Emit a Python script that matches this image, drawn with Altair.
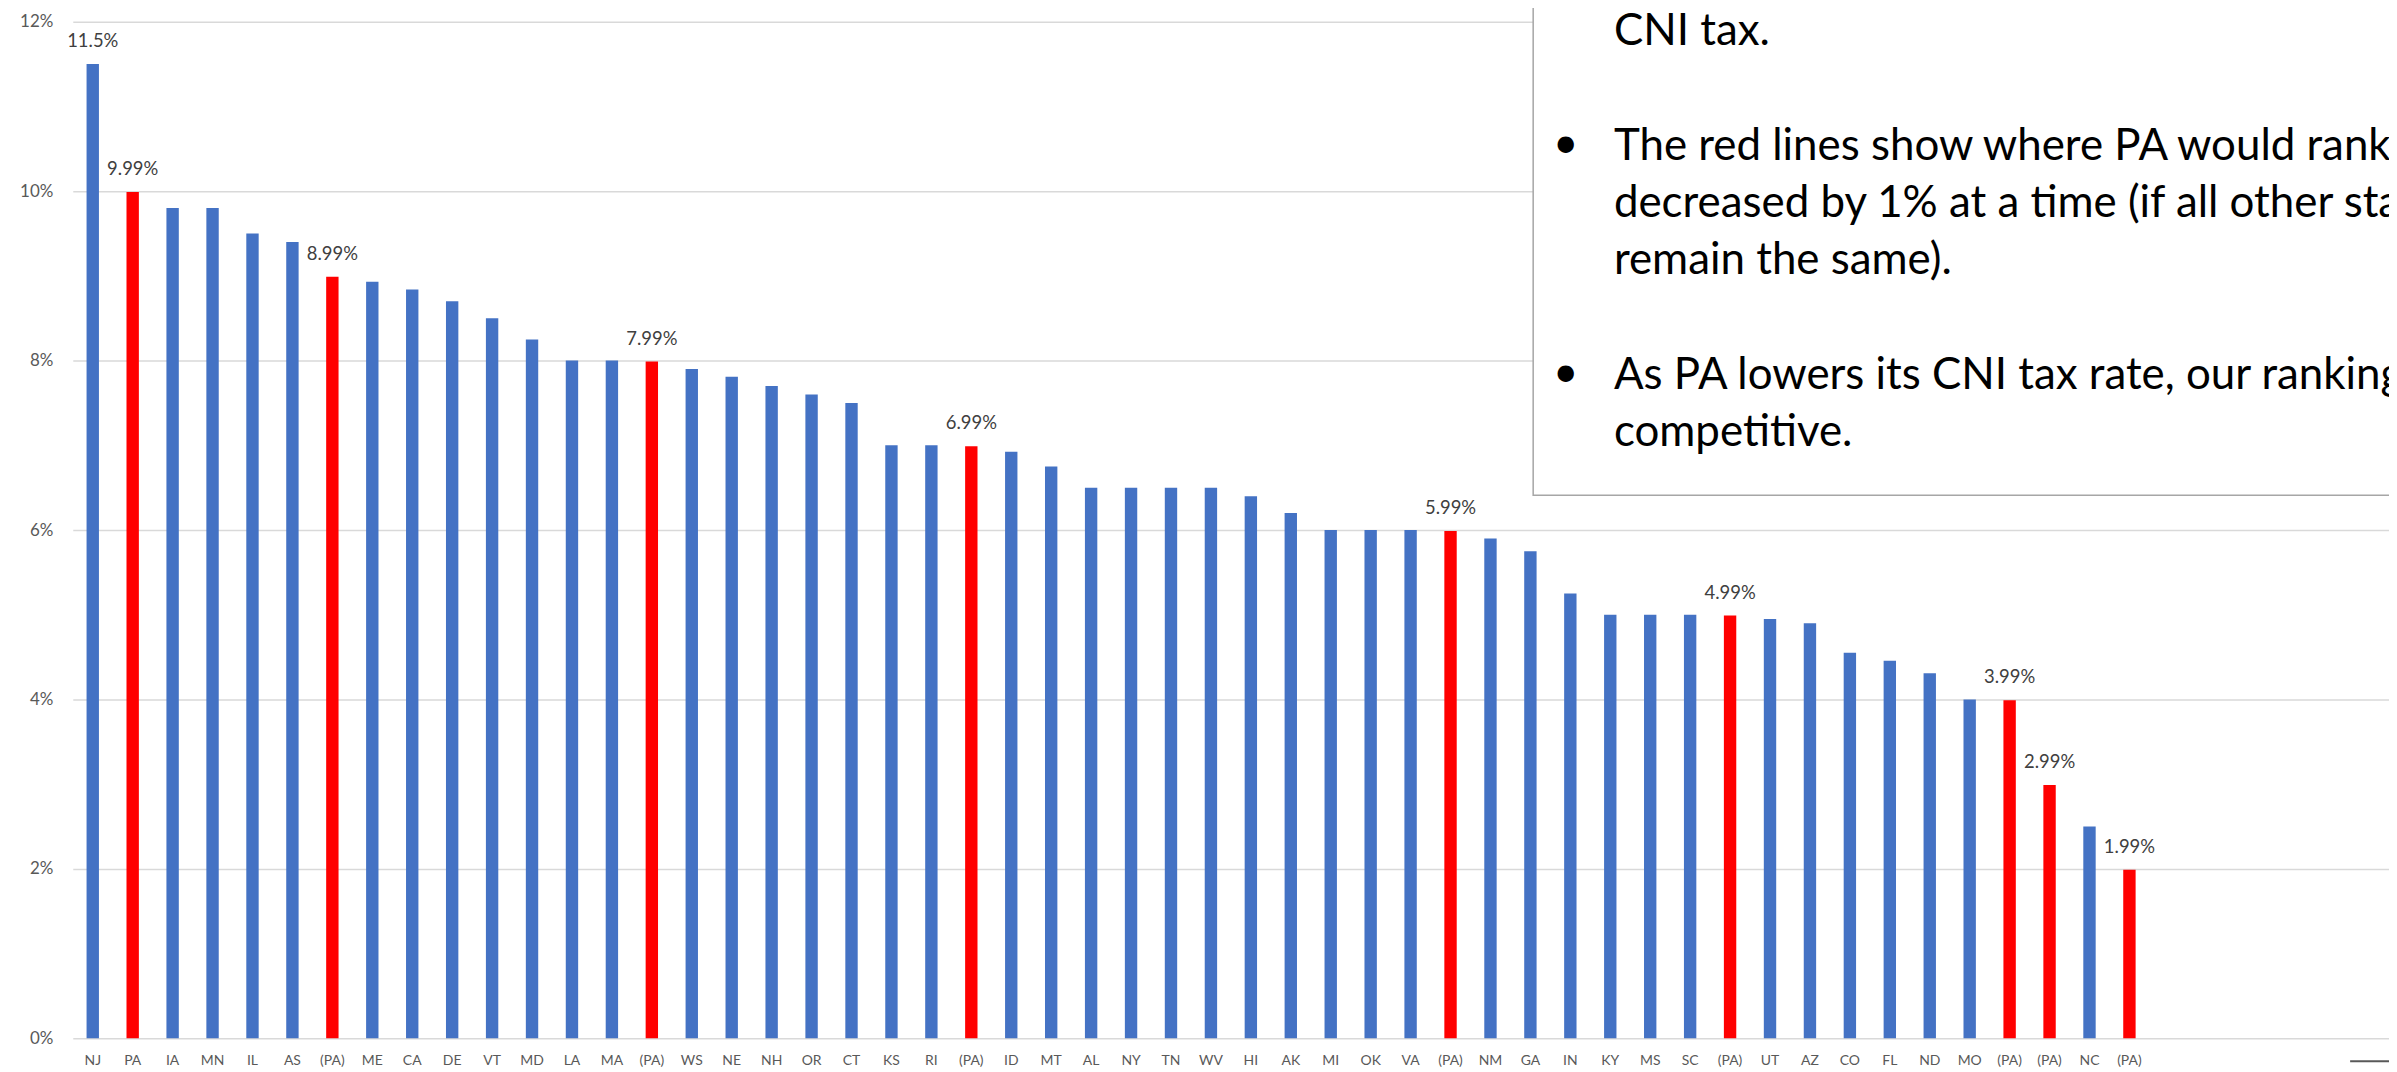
import json
import altair as alt
import pandas as pd

# ---- data ----
states = ["NJ", "PA", "IA", "MN", "IL", "AS", "(PA)", "ME", "CA", "DE", "VT", "MD", "LA", "MA",
          "(PA)", "WS", "NE", "NH", "OR", "CT", "KS", "RI", "(PA)", "ID", "MT", "AL", "NY", "TN",
          "WV", "HI", "AK", "MI", "OK", "VA", "(PA)", "NM", "GA", "IN", "KY", "MS", "SC", "(PA)",
          "UT", "AZ", "CO", "FL", "ND", "MO", "(PA)", "(PA)", "NC", "(PA)"]
rates = [11.5, 9.99, 9.8, 9.8, 9.5, 9.4, 8.99, 8.93, 8.84, 8.7, 8.5, 8.25, 8.0, 8.0,
         7.99, 7.9, 7.81, 7.7, 7.6, 7.5, 7.0, 7.0, 6.99, 6.925, 6.75, 6.5, 6.5, 6.5,
         6.5, 6.4, 6.2, 6.0, 6.0, 6.0, 5.99, 5.9, 5.75, 5.25, 5.0, 5.0, 5.0, 4.99,
         4.95, 4.9, 4.55, 4.458, 4.31, 4.0, 3.99, 2.99, 2.5, 1.99]
y_ticks = [0, 2, 4, 6, 8, 10, 12]
n_slots = 58  # category slots on the axis (empty ones at the right)

box_lines = ["CNI tax.",
             "The red lines show where PA would rank",
             "decreased by 1% at a time (if all other states",
             "remain the same).",
             "As PA lowers its CNI tax rate, our ranking",
             "competitive."]
box_baselines = [23.3, 138.3, 195.8, 253.3, 368.3, 425.8]  # plot-relative px
bullet_rows = [1, 4]

# ---- frames ----
kind = ["PA" if s in ("PA", "(PA)") else "state" for s in states]
df = pd.DataFrame({
    "idx": list(range(len(states))),
    "state": states,
    "rate": rates,
    "kind": kind,
    "label": [(f"{r:g}%" if (k == "PA" or i == 0) else "") for i, (r, k) in enumerate(zip(rates, kind))],
})

FONT = "Lato"
label_expr = f"datum.value < {len(states)} ? {json.dumps(states)}[datum.value] : ''"

x_enc = alt.X("idx:O",
              scale=alt.Scale(domain=list(range(n_slots)), paddingInner=0.69, paddingOuter=0.345),
              axis=alt.Axis(labelExpr=label_expr, labelAngle=0, ticks=False, domain=False, title=None,
                            labelPadding=15, labelFontSize=14, labelColor="#595959", labelFont=FONT,
                            grid=False))
y_enc = alt.Y("rate:Q",
              scale=alt.Scale(domain=[0, 12], nice=False, zero=True),
              axis=alt.Axis(values=y_ticks, labelExpr="datum.value + '%'", grid=True,
                            gridColor="#d9d9d9", gridWidth=1.5, domain=False, ticks=False,
                            labelPadding=20, labelFontSize=17, labelColor="#595959",
                            labelFont=FONT, title=None))

base = alt.Chart(df)
bars = base.mark_bar().encode(
    x=x_enc, y=y_enc,
    color=alt.Color("kind:N", scale=alt.Scale(domain=["state", "PA"], range=["#4472C4", "#FF0000"]),
                    legend=None),
)
labels = base.mark_text(baseline="alphabetic", align="center", dy=-17, fontSize=18.5,
                        font=FONT, color="#404040").encode(
    x="idx:O", y="rate:Q", text="label:N")

one = pd.DataFrame({"a": [0]})
box = alt.Chart(one).mark_rect(fill="white", stroke="#a6a6a6", strokeWidth=1.5).encode(
    x=alt.value(1465.3), x2=alt.value(2500), y=alt.value(-60), y2=alt.value(475))

text_layers = []
for line, yb in zip(box_lines, box_baselines):
    text_layers.append(
        alt.Chart(one).mark_text(align="left", baseline="alphabetic", fontSize=44, font=FONT,
                                 color="black", text=line).encode(
            x=alt.value(1546.3), y=alt.value(yb)))
for r in bullet_rows:
    text_layers.append(
        alt.Chart(one).mark_text(align="center", baseline="alphabetic", fontSize=44, font=FONT,
                                 color="black", text="\u2022").encode(
            x=alt.value(1498), y=alt.value(box_baselines[r] - 2)))

arrow = alt.Chart(one).mark_rule(color="#595959", strokeWidth=2).encode(
    x=alt.value(2285), x2=alt.value(2330), y=alt.value(1043))

chart = alt.layer(bars, labels, box, *text_layers, arrow).properties(
    width=2324, height=1020,
    autosize=alt.AutoSizeParams(type="none"),
    padding={"left": 65, "top": 12, "right": 0, "bottom": 32},
    background="white",
).configure_view(stroke=None)

chart.save("out.html", embed_options={"renderer": "svg", "actions": False})
